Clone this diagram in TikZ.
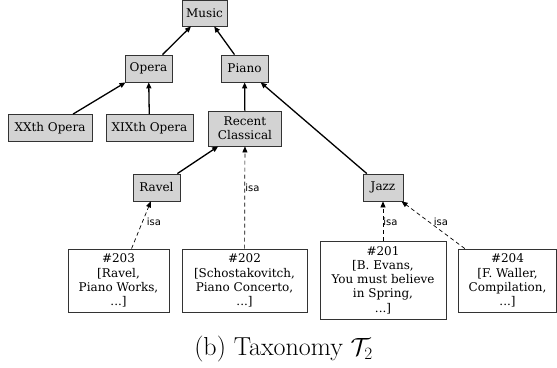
\documentclass[tikz,border=0pt]{standalone}
\usepackage{fontspec}
\usetikzlibrary{arrows.meta}
\newfontfamily\boxfont{DejaVu Serif}
\newfontfamily\lblfont{DejaVu Sans}
\definecolor{boxfill}{HTML}{D3D3D3}
\definecolor{boxline}{HTML}{333333}
\tikzset{
  cat/.style={draw=boxline, fill=boxfill, line width=0.8pt, inner sep=0pt, align=center,
    font=\boxfont\fontsize{12}{14.3}\selectfont},
  inst/.style={draw=boxline, fill=white, line width=0.8pt, inner sep=0pt, align=center,
    font=\boxfont\fontsize{12}{14.3}\selectfont},
  sub/.style={line width=1.3pt, -{Triangle[length=6pt,width=5pt]}},
  isa/.style={line width=0.7pt, dash pattern=on 4pt off 3pt, -{Triangle[length=6pt,width=5pt]}},
  lbl/.style={inner sep=0pt, font=\lblfont\fontsize{10}{12}\selectfont}
}
\begin{document}
\begin{tikzpicture}[x=1pt,y=-1pt]
\useasboundingbox (0,0) rectangle (557,367);
\node[cat, minimum width=45pt, minimum height=26pt] (music) at (204.5,13) {Music};
\node[cat, minimum width=47pt, minimum height=27pt] (opera) at (148.5,68.5) {Opera};
\node[cat, minimum width=47pt, minimum height=27pt] (piano) at (244.5,68.5) {Piano};
\node[cat, minimum width=84pt, minimum height=27pt] (xx) at (50,128) {XXth Opera};
\node[cat, minimum width=87pt, minimum height=27pt] (xix) at (149.5,128) {XIXth Opera};
\node[cat, minimum width=73pt, minimum height=35pt] (recent) at (245,128.5) {Recent\\Classical};
\node[cat, minimum width=47pt, minimum height=27pt] (ravel) at (156.5,187.5) {Ravel};
\node[cat, minimum width=40pt, minimum height=27pt] (jazz) at (383,187.5) {Jazz};
\node[inst, minimum width=101pt, minimum height=63pt] (i203) at (118.5,280.5) {\#203\\{}[Ravel,\\Piano Works,\\...]};
\node[inst, minimum width=125pt, minimum height=63pt] (i202) at (244.5,280.5) {\#202\\{}[Schostakovitch,\\Piano Concerto,\\...]};
\node[inst, minimum width=126pt, minimum height=78pt] (i201) at (383,280) {\#201\\{}[B. Evans,\\You must believe\\in Spring,\\...]};
\node[inst, minimum width=98pt, minimum height=63pt] (i204) at (507.5,280.5) {\#204\\{}[F. Waller,\\Compilation,\\...]};
\draw[sub] (opera) -- (music);
\draw[sub] (piano) -- (music);
\draw[sub] (xx) -- (opera);
\draw[sub] (xix) -- (opera);
\draw[sub] (recent) -- (piano);
\draw[sub] (jazz) -- (piano);
\draw[sub] (ravel) -- (recent);
\draw[isa] (i203) -- (ravel);
\draw[isa] (i202) -- (recent);
\draw[isa] (i201) -- (jazz);
\draw[isa] (i204) -- (jazz);
\node[lbl] (l203) at (154,222) {isa};
\node[lbl] (l202) at (252.5,188) {isa};
\node[lbl] (l201) at (390.5,222) {isa};
\node[lbl] (l204) at (441,222) {isa};
\node[inner sep=0pt, font=\fontsize{26}{31}\selectfont] (cap) at (283.5,349) {(b) Taxonomy $\mathcal{T}_2$};
\end{tikzpicture}
\end{document}
